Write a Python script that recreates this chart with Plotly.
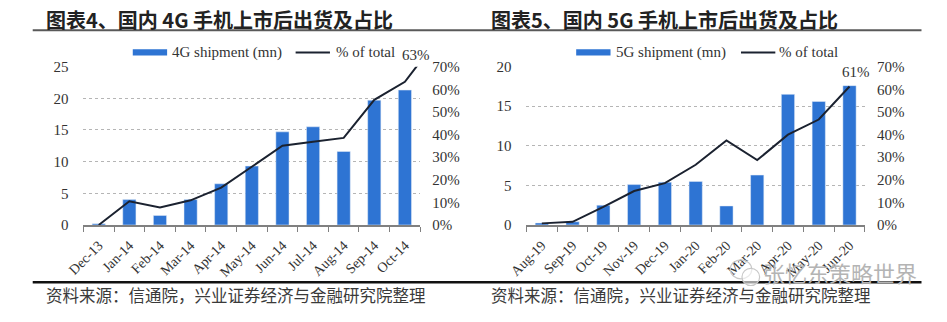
import plotly.graph_objects as go

# ---------------- data ----------------
months_4g = ["Dec-13", "Jan-14", "Feb-14", "Mar-14", "Apr-14", "May-14",
             "Jun-14", "Jul-14", "Aug-14", "Sep-14", "Oct-14"]
ship_4g = [0.2, 4.0, 1.5, 4.0, 6.5, 9.3, 14.7, 15.5, 11.6, 19.7, 21.3]
pct_4g = [0.0, 0.105, 0.077, 0.109, 0.165, 0.259, 0.350, 0.368, 0.385, 0.553, 0.633]
pct_4g_tail = 0.81   # line runs on past Oct-14 and is cut at the plot edge

months_5g = ["Aug-19", "Sep-19", "Oct-19", "Nov-19", "Dec-19", "Jan-20",
             "Feb-20", "Mar-20", "Apr-20", "May-20", "Jun-20"]
ship_5g = [0.25, 0.4, 2.5, 5.1, 5.4, 5.5, 2.4, 6.3, 16.5, 15.6, 17.6]
pct_5g = [0.007, 0.014, 0.080, 0.150, 0.185, 0.266, 0.374, 0.287, 0.399, 0.466, 0.612]

ticks_4g = [0, 5, 10, 15, 20, 25]
ticks_5g = [0, 5, 10, 15, 20]
ticks_pct = [0, 0.1, 0.2, 0.3, 0.4, 0.5, 0.6, 0.7]

title_4g = "图表4、国内 4G 手机上市后出货及占比"
title_5g = "图表5、国内 5G 手机上市后出货及占比"
source_txt = "资料来源：信通院，兴业证券经济与金融研究院整理"
legend_4g = ["4G shipment (mn)", "% of total"]
legend_5g = ["5G shipment (mn)", "% of total"]
label_4g = "63%"
label_5g = "61%"
watermark = "张忆东策略世界"

# ---------------- style ----------------
W, H = 947, 322
BAR = "#2E74D3"
LINE = "#1B2230"
GRID = "#b5b5b5"
AX = "#808080"
TXT = "#333333"
SERIF = "Liberation Serif"
CJK = "Noto Sans CJK SC"


def px(x):
    return x / W


def py(y):
    return 1 - y / H


ydom = [py(228.3), py(61.7)]
xdom_l = [px(66.7), px(410.0)]
xdom_r = [px(518.3), px(863.3)]

fig = go.Figure()

# left chart
fig.add_trace(go.Bar(x=months_4g, y=ship_4g, marker_color=BAR, xaxis="x", yaxis="y",
                     showlegend=False, hoverinfo="skip"))
fig.add_trace(go.Scatter(x=list(range(len(pct_4g) + 1)), y=pct_4g + [pct_4g_tail],
                         mode="lines", line=dict(color=LINE, width=2),
                         xaxis="x3", yaxis="y2", showlegend=False, hoverinfo="skip"))
# right chart
fig.add_trace(go.Bar(x=months_5g, y=ship_5g, marker_color=BAR, xaxis="x2", yaxis="y3",
                     showlegend=False, hoverinfo="skip"))
fig.add_trace(go.Scatter(x=list(range(len(pct_5g))), y=pct_5g,
                         mode="lines", line=dict(color=LINE, width=2),
                         xaxis="x4", yaxis="y4", showlegend=False, hoverinfo="skip"))

xcat = dict(type="category", tickson="boundaries", ticks="outside", ticklen=5,
            tickcolor=AX, tickwidth=1.2, showline=True, linecolor=AX, linewidth=1.5,
            tickangle=-45, tickfont=dict(family=SERIF, size=14, color=TXT),
            ticklabelstandoff=5,
            showgrid=False, zeroline=False, range=[-0.5, 10.5], fixedrange=True)
yleft = dict(domain=ydom, showgrid=True, gridcolor=GRID, griddash="dot", gridwidth=1,
             zeroline=False, showline=False, ticks="",
             tickfont=dict(family=SERIF, size=15, color=TXT), ticklabelstandoff=14)
yright = dict(domain=ydom, side="right", range=[0, 0.7], tickvals=ticks_pct,
              tickformat=".0%", showgrid=False, zeroline=False, showline=False, ticks="",
              tickfont=dict(family=SERIF, size=15, color=TXT), ticklabelstandoff=11)
xhid = dict(range=[-0.5, 10.5], visible=False, fixedrange=True)

fig.update_layout(
    width=W, height=H, margin=dict(l=0, r=0, t=0, b=0), autosize=False,
    paper_bgcolor="white", plot_bgcolor="rgba(0,0,0,0)", bargap=0.57,
    xaxis=dict(xcat, domain=xdom_l, anchor="y"),
    yaxis=dict(yleft, range=[0, 25], tickvals=ticks_4g, anchor="x"),
    yaxis2=dict(yright, overlaying="y", anchor="x"),
    xaxis3=dict(xhid, overlaying="x", anchor="y"),
    xaxis2=dict(xcat, domain=xdom_r, anchor="y3"),
    yaxis3=dict(yleft, range=[0, 20], tickvals=ticks_5g, anchor="x2"),
    yaxis4=dict(yright, overlaying="y3", anchor="x2"),
    xaxis4=dict(xhid, overlaying="x2", anchor="y3"),
)

shapes = []
annos = []

# title rule and bottom rule
shapes.append(dict(type="line", xref="paper", yref="paper", x0=px(15), x1=px(921),
                   y0=py(23.5), y1=py(23.5), line=dict(color="#595959", width=2)))
shapes.append(dict(type="line", xref="paper", yref="paper", x0=px(15), x1=px(921),
                   y0=py(288.5), y1=py(288.5), line=dict(color="#111111", width=2.5)))

for tx, xt in ((title_4g, 27), (title_5g, 480)):
    annos.append(dict(text="<b>" + tx + "</b>", xref="paper", yref="paper", x=px(xt), y=py(12),
                      xanchor="left", yanchor="middle", showarrow=False,
                      font=dict(family=CJK, size=20, color="#222222")))
for xt in (27, 480):
    annos.append(dict(text=source_txt, xref="paper", yref="paper", x=px(xt), y=py(301.5),
                      xanchor="left", yanchor="middle", showarrow=False,
                      font=dict(family=CJK, size=16.5, color="#3a3a3a")))

# legends
for (names, bx0, tx0, lx0, ltx0) in ((legend_4g, 117, 155, 283, 322),
                                     (legend_5g, 569, 608, 737, 774)):
    shapes.append(dict(type="rect", xref="paper", yref="paper", x0=px(bx0), x1=px(bx0 + 35),
                       y0=py(50), y1=py(43.3), fillcolor=BAR, line=dict(width=0)))
    shapes.append(dict(type="line", xref="paper", yref="paper", x0=px(lx0), x1=px(lx0 + 35),
                       y0=py(46.7), y1=py(46.7), line=dict(color=LINE, width=2)))
    annos.append(dict(text=names[0], xref="paper", yref="paper", x=px(tx0), y=py(46.5),
                      xanchor="left", yanchor="middle", showarrow=False,
                      font=dict(family=SERIF, size=15, color=TXT)))
    annos.append(dict(text=names[1], xref="paper", yref="paper", x=px(ltx0), y=py(46.5),
                      xanchor="left", yanchor="middle", showarrow=False,
                      font=dict(family=SERIF, size=15, color=TXT)))

# data labels at last point
annos.append(dict(text=label_4g, xref="x3", yref="y2", x=len(pct_4g) - 1, y=pct_4g[-1],
                  xanchor="center", yanchor="bottom", xshift=11, yshift=17, showarrow=False,
                  font=dict(family=SERIF, size=15, color=TXT)))
annos.append(dict(text=label_5g, xref="x4", yref="y4", x=len(pct_5g) - 1, y=pct_5g[-1],
                  xanchor="center", yanchor="bottom", xshift=6, yshift=5, showarrow=False,
                  font=dict(family=SERIF, size=15, color=TXT)))

# watermark
shapes.append(dict(type="circle", xref="paper", yref="paper", x0=px(726), x1=px(748),
                   y0=py(285), y1=py(265), line=dict(color="#c8c8c8", width=1.2)))
shapes.append(dict(type="circle", xref="paper", yref="paper", x0=px(738), x1=px(756),
                   y0=py(292), y1=py(274), line=dict(color="#c8c8c8", width=1.2),
                   fillcolor="rgba(255,255,255,0.6)"))
annos.append(dict(text=watermark, xref="paper", yref="paper", x=px(757), y=py(278),
                  xanchor="left", yanchor="middle", showarrow=False,
                  font=dict(family=CJK, size=22, color="#b4b4b4")))

fig.update_layout(shapes=shapes, annotations=annos)
fig.write_html("out.html")
